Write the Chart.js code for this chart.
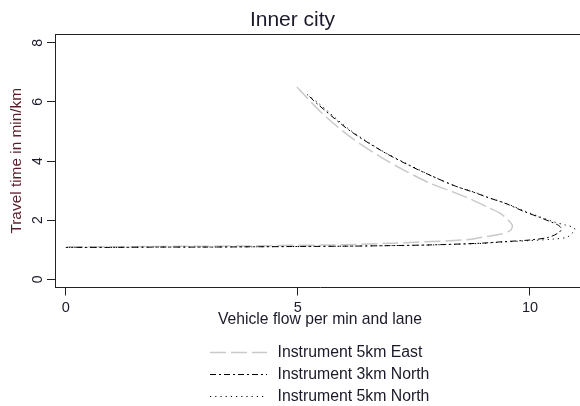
<!DOCTYPE html>
<html>
<head>
<meta charset="utf-8">
<script src="https://cdn.jsdelivr.net/npm/chart.js@4.4.1/dist/chart.umd.min.js"></script>
<style>
  html, body { margin: 0; padding: 0; overflow: hidden; background: #ffffff; }
  #wrap { width: 640px; height: 406px; }
  canvas { display: block; }
</style>
</head>
<body>
<div id="wrap"><canvas id="c" width="640" height="406"></canvas></div>
<script>
// Texts and tick values
const chartTitle = 'Inner city';
const xTitle = 'Vehicle flow per min and lane';
const yTitle = 'Travel time in min/km';
const xTickValues = [0, 5, 10];
const yTickValues = [0, 2, 4, 6, 8];
const seriesLabels = ['Instrument 5km East', 'Instrument 3km North', 'Instrument 5km North'];

// Instrument 5km East: flow (veh/min/lane) and travel time (min/km)
const eastFlow = [4.98, 5.48, 6.10, 6.77, 7.30, 7.85, 8.30, 8.71, 9.14, 9.36, 9.52, 9.62, 9.58, 9.38, 8.99, 8.64, 7.63, 7.00, 6.00, 5.00, 4.00, 3.00, 2.00, 1.00, 0.02];
const eastTime = [6.51, 5.68, 4.85, 4.15, 3.68, 3.25, 2.98, 2.72, 2.40, 2.23, 2.02, 1.82, 1.66, 1.53, 1.43, 1.34, 1.26, 1.22, 1.17, 1.15, 1.13, 1.12, 1.11, 1.10, 1.10];

// Instrument 3km North
const north3Flow = [5.25, 5.40, 6.10, 6.80, 7.40, 7.92, 8.40, 8.85, 9.07, 9.50, 9.86, 10.20, 10.47, 10.62, 10.68, 10.62, 10.40, 10.00, 9.40, 8.93, 7.77, 7.00, 6.00, 5.00, 4.00, 3.00, 2.00, 1.00, 0.00];
const north3Time = [6.18, 5.96, 5.05, 4.35, 3.85, 3.47, 3.15, 2.91, 2.78, 2.55, 2.30, 2.10, 1.93, 1.82, 1.70, 1.58, 1.42, 1.33, 1.27, 1.22, 1.16, 1.14, 1.12, 1.11, 1.10, 1.09, 1.09, 1.08, 1.08];

// Instrument 5km North
const north5Flow = [5.20, 5.45, 6.10, 6.80, 7.40, 7.95, 8.40, 8.85, 9.10, 9.50, 9.90, 10.20, 10.50, 10.75, 10.93, 10.97, 10.90, 10.79, 10.50, 10.00, 9.40, 8.90, 7.80, 7.00, 6.00, 5.00, 4.00, 3.00, 2.00, 1.00, 0.00];
const north5Time = [6.25, 5.95, 5.08, 4.36, 3.87, 3.45, 3.15, 2.92, 2.77, 2.56, 2.30, 2.12, 1.95, 1.84, 1.76, 1.68, 1.55, 1.42, 1.36, 1.31, 1.26, 1.21, 1.16, 1.14, 1.12, 1.11, 1.10, 1.09, 1.09, 1.08, 1.08];

const FONT = '"Liberation Sans", Arial, Helvetica, sans-serif';
const TEXT = '#1a1a2a';
const AXIS = '#222222';

function pts(xs, ys) { return xs.map((x, i) => ({ x: x, y: ys[i] })); }

const datasets = [
  { label: seriesLabels[0], data: pts(eastFlow, eastTime), borderColor: '#c9c9c9', borderWidth: 1.5, borderDash: [16, 5], order: 3 },
  { label: seriesLabels[1], data: pts(north3Flow, north3Time), borderColor: '#000000', borderWidth: 1, borderDash: [6, 3, 2, 3], order: 2 },
  { label: seriesLabels[2], data: pts(north5Flow, north5Time), borderColor: '#000000', borderWidth: 1, borderDash: [1.2, 4], order: 1 }
].map(d => Object.assign(d, { showLine: true, fill: false, pointRadius: 0, pointHoverRadius: 0, tension: 0.3 }));

// Plot box outline, rotated y tick labels and the stacked legend below the axes
const decor = {
  id: 'decor',
  afterDraw(chart) {
    const { ctx, chartArea: a, scales: { y } } = chart;
    ctx.save();
    ctx.strokeStyle = AXIS;
    ctx.lineWidth = 1;
    ctx.beginPath();
    ctx.moveTo(a.left, Math.round(a.top) + 0.5);
    ctx.lineTo(a.right, Math.round(a.top) + 0.5);
    ctx.moveTo(Math.round(a.right) + 0.5, a.top);
    ctx.lineTo(Math.round(a.right) + 0.5, a.bottom);
    ctx.stroke();

    ctx.font = '14px ' + FONT;
    ctx.fillStyle = TEXT;
    ctx.textAlign = 'center';
    ctx.textBaseline = 'middle';
    yTickValues.forEach(v => {
      ctx.save();
      ctx.translate(38, y.getPixelForValue(v));
      ctx.rotate(-Math.PI / 2);
      ctx.fillText(String(v), 0, 0);
      ctx.restore();
    });

    const rows = [352.5, 374.5, 396.5];
    chart.data.datasets.forEach((ds, i) => {
      const ry = rows[i];
      ctx.save();
      ctx.strokeStyle = ds.borderColor;
      ctx.lineWidth = ds.borderWidth;
      ctx.setLineDash(ds.borderDash);
      ctx.beginPath();
      ctx.moveTo(210, ry);
      ctx.lineTo(267, ry);
      ctx.stroke();
      ctx.restore();
      ctx.font = '15.8px ' + FONT;
      ctx.fillStyle = TEXT;
      ctx.textAlign = 'left';
      ctx.textBaseline = 'middle';
      ctx.fillText(ds.label, 277.5, ry);
    });
    ctx.restore();
  }
};

new Chart(document.getElementById('c'), {
  type: 'scatter',
  data: { datasets: datasets },
  plugins: [decor],
  options: {
    responsive: false,
    animation: false,
    devicePixelRatio: 1,
    layout: { padding: { left: 0, right: 55, top: 0, bottom: 76.5 } },
    plugins: {
      legend: { display: false },
      tooltip: { enabled: false },
      title: {
        display: true,
        text: chartTitle,
        color: TEXT,
        font: { family: FONT, size: 21, weight: 'normal' },
        padding: { top: 7.4, bottom: 1.4 }
      }
    },
    scales: {
      x: {
        type: 'linear',
        position: 'bottom',
        min: -0.2327,
        max: 11.185,
        afterBuildTicks: s => { s.ticks = xTickValues.map(v => ({ value: v })); },
        afterFit: s => { s.height = 42; },
        grid: { display: true, drawOnChartArea: false, drawTicks: true, tickLength: 8, color: AXIS },
        border: { display: true, color: AXIS, width: 1 },
        ticks: { color: TEXT, font: { family: FONT, size: 14.5 }, padding: 4, maxRotation: 0, autoSkip: false },
        title: { display: true, text: xTitle, color: TEXT, font: { family: FONT, size: 15.7 }, padding: { top: 0, bottom: 0 } }
      },
      y: {
        type: 'linear',
        min: -0.2775,
        max: 8.30,
        afterBuildTicks: s => { s.ticks = yTickValues.map(v => ({ value: v })); },
        afterFit: s => { s.width = 55; },
        grid: { display: true, drawOnChartArea: false, drawTicks: true, tickLength: 8, color: AXIS },
        border: { display: true, color: AXIS, width: 1 },
        ticks: { display: false },
        title: { display: true, text: yTitle, color: '#5a1c2a', font: { family: FONT, size: 15.4 }, padding: { top: 7.2, bottom: 0 } }
      }
    }
  }
});
</script>
</body>
</html>
